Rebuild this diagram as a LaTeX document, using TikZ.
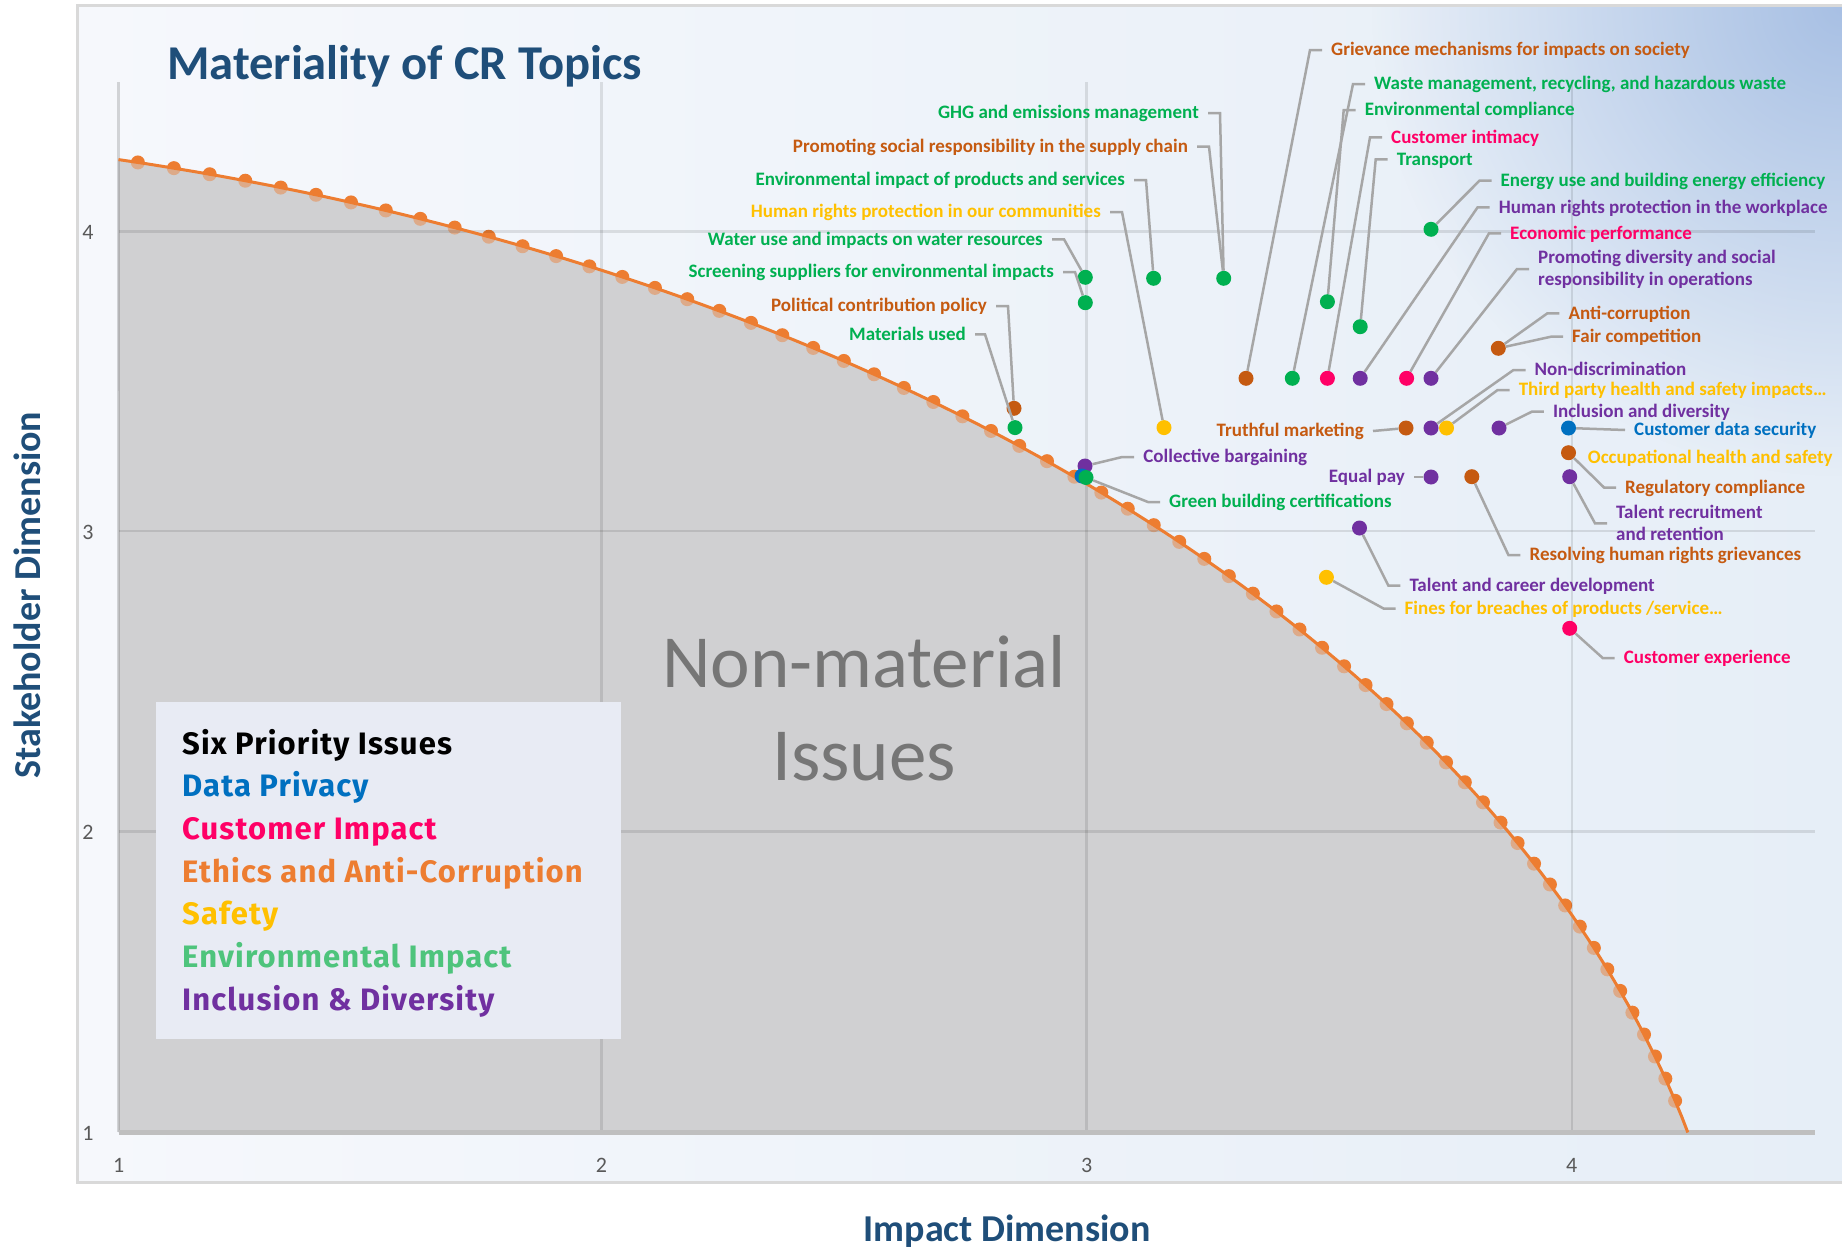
\documentclass[tikz,border=0pt]{standalone}
\usepackage{fontspec}
\setmainfont{Carlito}
\newfontfamily\legfont[LetterSpace=3.6]{Fira Sans}
\usetikzlibrary{fadings}

\definecolor{ttlblue}{RGB}{31,78,121}
\definecolor{cbrown}{RGB}{197,90,17}
\definecolor{cgreen}{RGB}{0,176,80}
\definecolor{cyellow}{RGB}{255,192,0}
\definecolor{cpink}{RGB}{255,0,102}
\definecolor{cpurple}{RGB}{112,48,160}
\definecolor{cblue}{RGB}{0,112,192}
\definecolor{corange}{RGB}{237,125,49}
\definecolor{legreen}{RGB}{78,196,124}
\definecolor{leadgray}{RGB}{166,166,166}
\definecolor{areagray}{RGB}{208,208,210}
\definecolor{bgleft}{RGB}{246,248,252}
\definecolor{bgright}{RGB}{230,238,247}
\definecolor{bgcorner}{RGB}{168,192,228}
\definecolor{legbg}{RGB}{232,235,244}
\definecolor{framegray}{RGB}{217,217,217}
\definecolor{tickgray}{RGB}{89,89,89}
\definecolor{nmgray}{RGB}{118,118,118}

\tikzfading[name=cornerfade, inner color=transparent!0, outer color=transparent!100]

\tikzset{
  lbl/.style={font=\fontsize{19}{22}\selectfont\bfseries, inner xsep=9pt, inner ysep=0pt},
  lblr/.style={lbl, anchor=east, text height=14.5pt, text depth=3pt},
  lbll/.style={lbl, anchor=west, text height=14.5pt, text depth=3pt},
  lbltwo/.style={lbl, anchor=west, align=left},
  issue/.style={circle, fill=#1, inner sep=0pt, minimum size=15pt},
  lead/.style={leadgray, line width=2.5pt},
  ticklbl/.style={font=\fontsize{22}{26}\selectfont, text=tickgray},
  legitem/.style={font=\legfont\fontsize{31}{36}\selectfont\bfseries, anchor=base west, inner sep=0pt},
  axtitle/.style={font=\fontsize{38}{42}\selectfont\bfseries, text=ttlblue},
}

\begin{document}
\begin{tikzpicture}[x=1pt, y=-1pt]
    \useasboundingbox (0,0) rectangle (1842,1250);

    % Fundo do grafico
    \begin{scope}
      \clip (77.5,5.5) rectangle (1842,1182.5);
      \shade[left color=bgleft, right color=bgright] (77.5,5.5) rectangle (1842,1182.5);
      \fill[bgcorner, path fading=cornerfade] (1842,5.5) circle (470pt);
    \end{scope}
    \draw[framegray, line width=3pt] (77.5,5.5) rectangle (1850,1182.5);

    % Area nao material e pontos da curva
    \fill[areagray] (118.6,1132.4) -- plot[domain=76.73:13.27, samples=90]
      ({118.6+(4.356*cos(\x)-1)*484.4},{1132.4-(4.356*sin(\x)-1)*300.3}) -- cycle;
    \foreach \k in {0,...,61}
      \fill[corange] ({118.6+(4.356*cos(14.7+1.008*\k)-1)*484.4},{1132.4-(4.356*sin(14.7+1.008*\k)-1)*300.3}) circle (7pt);
    \fill[areagray, opacity=0.55] (118.6,1132.4) -- plot[domain=76.73:13.27, samples=90]
      ({118.6+(4.356*cos(\x)-1)*484.4},{1132.4-(4.356*sin(\x)-1)*300.3}) -- cycle;

    % Grade e eixos
    \foreach \gx in {601.4,1086.6,1571.8}
      \draw[black, opacity=0.1, line width=2.5pt] (\gx,82) -- (\gx,1132.4);
    \foreach \gy in {231.4,531,831.7}
      \draw[black, opacity=0.1, line width=2.5pt] (118.6,\gy) -- (1815,\gy);
    \draw[black, opacity=0.15, line width=2.5pt] (118.6,82) -- (118.6,1132.4);
    \draw[black!25, line width=5pt] (118.6,1132.4) -- (1815,1132.4);
    \draw[corange, line width=3pt] plot[domain=76.73:13.27, samples=90]
      ({118.6+(4.356*cos(\x)-1)*484.4},{1132.4-(4.356*sin(\x)-1)*300.3});

    % Rotulos dos eixos
    \node[ticklbl] (tx1) at (118.6,1165) {1};
    \node[ticklbl] (tx2) at (601.4,1165) {2};
    \node[ticklbl] (tx3) at (1086.6,1165) {3};
    \node[ticklbl] (tx4) at (1571.8,1165) {4};
    \node[ticklbl] (ty1) at (88,1133) {1};
    \node[ticklbl] (ty2) at (88,832) {2};
    \node[ticklbl] (ty3) at (88,532) {3};
    \node[ticklbl] (ty4) at (88,232) {4};
    \node[axtitle, rotate=90] (ytitle) at (27,595) {Stakeholder Dimension};
    \node[axtitle] (xtitle) at (1007,1231) {Impact Dimension};
    \node[anchor=base west, inner sep=0pt, font=\fontsize{48.6}{56}\selectfont\bfseries, text=ttlblue] (title) at (166.8,79.3) {Materiality of CR Topics};
    \node[align=center, font=\fontsize{75}{93}\selectfont, text=nmgray] (nonmat) at (864,708) {Non-material\\Issues};

    % Legenda
    \node[fill=legbg, anchor=north west, minimum width=465pt, minimum height=337pt, inner sep=0pt] (legbox) at (156,701.5) {};
    \node[legitem, text=black] (lgsix) at (182,754) {Six Priority Issues};
    \node[legitem, text=cblue] (lgdata) at (182,796.7) {Data Privacy};
    \node[legitem, text=cpink] (lgcust) at (182,839.4) {Customer Impact};
    \node[legitem, text=corange] (lgeth) at (182,882.1) {Ethics and Anti-Corruption};
    \node[legitem, text=cyellow] (lgsaf) at (182,924.8) {Safety};
    \node[legitem, text=legreen] (lgenv) at (182,967.5) {Environmental Impact};
    \node[legitem, text=cpurple] (lgincl) at (182,1010.2) {Inclusion \& Diversity};

    % Topicos (pontos)
    \node[issue=cgreen] (dMat) at (1015,427.6) {};
    \node[issue=cbrown] (dPol) at (1014,408.3) {};
    \node[issue=cgreen] (dScr) at (1085.3,302.7) {};
    \node[issue=cgreen] (dWat) at (1085.3,277.3) {};
    \node[issue=cgreen] (dEnvP) at (1153.6,278.3) {};
    \node[issue=cgreen] (dGHG) at (1223.7,278.3) {};
    \node[issue=cyellow] (dHRC) at (1164,427.6) {};
    \node[issue=cbrown] (dGri) at (1246,378.3) {};
    \node[issue=cgreen] (dWas) at (1292.3,378.3) {};
    \node[issue=cgreen] (dEnvC) at (1327.4,301.7) {};
    \node[issue=cpink] (dCI) at (1327.4,378.3) {};
    \node[issue=cgreen] (dTra) at (1360.2,326.7) {};
    \node[issue=cgreen] (dEne) at (1431,229.3) {};
    \node[issue=cpurple] (dHRW) at (1360.2,378.3) {};
    \node[issue=cpink] (dEco) at (1406.6,378.3) {};
    \node[issue=cpurple] (dDiv) at (1431,378.3) {};
    \node[issue=cbrown] (dAnti) at (1498.3,348.3) {};
    \node[issue=cbrown] (dTru) at (1406,428) {};
    \node[issue=cpurple] (dNon) at (1431,428) {};
    \node[issue=cyellow] (dThi) at (1446.5,428) {};
    \node[issue=cpurple] (dInc) at (1499,428) {};
    \node[issue=cblue] (dCDS) at (1568.5,428) {};
    \node[issue=cbrown] (dReg) at (1568.5,452.7) {};
    \node[issue=cpurple] (dTal) at (1569.7,476.7) {};
    \node[issue=cpurple] (dEq) at (1431,477) {};
    \node[issue=cbrown] (dRes) at (1471.8,476.7) {};
    \node[issue=cpurple] (dCol) at (1085,466) {};
    \node[issue=cblue] (dGreB) at (1082,476) {};
    \node[issue=cgreen] (dGre) at (1086,477.5) {};
    \node[issue=cpurple] (dTCD) at (1359.5,528) {};
    \node[issue=cyellow] (dFin) at (1326.4,577.3) {};
    \node[issue=cpink] (dCE) at (1569.7,628.3) {};

    % Rotulos a esquerda
    \node[lblr, text=cgreen] (lGHG) at (1208,113) {GHG and emissions management};
    \node[lblr, text=cbrown] (lSup) at (1197,146.7) {Promoting social responsibility in the supply chain};
    \node[lblr, text=cgreen] (lEnvP) at (1134,180) {Environmental impact of products and services};
    \node[lblr, text=cyellow] (lHRC) at (1110,212) {Human rights protection in our communities};
    \node[lblr, text=cgreen] (lWat) at (1052,239.3) {Water use and impacts on water resources};
    \node[lblr, text=cgreen] (lScr) at (1063,272) {Screening suppliers for environmental impacts};
    \node[lblr, text=cbrown] (lPol) at (996,306) {Political contribution policy};
    \node[lblr, text=cgreen] (lMat) at (975,334.3) {Materials used};
    \node[lblr, text=cbrown] (lTru) at (1373,431) {Truthful marketing};
    \node[lblr, text=cpurple] (lEq) at (1414,477) {Equal pay};

    % Rotulos a direita
    \node[lbll, text=cbrown] (lGri) at (1322,50) {Grievance mechanisms for impacts on society};
    \node[lbll, text=cgreen] (lWas) at (1365,84) {Waste management, recycling, and hazardous waste};
    \node[lbll, text=cgreen] (lEnvC) at (1355.7,110) {Environmental compliance};
    \node[lbll, text=cpink] (lCI) at (1382,137.3) {Customer intimacy};
    \node[lbll, text=cgreen] (lTra) at (1387.7,159.3) {Transport};
    \node[lbll, text=cgreen] (lEne) at (1491.5,180.7) {Energy use and building energy efficiency};
    \node[lbll, text=cpurple] (lHRW) at (1489.6,207.3) {Human rights protection in the workplace};
    \node[lbll, text=cpink] (lEco) at (1501,233.3) {Economic performance};
    \node[lbltwo, text=cpurple] (lDiv) at (1529,269) {Promoting diversity and social\\responsibility in operations};
    \node[lbll, text=cbrown] (lAnti) at (1559.4,313.3) {Anti-corruption};
    \node[lbll, text=cbrown] (lFair) at (1563,336.7) {Fair competition};
    \node[lbll, text=cpurple] (lNon) at (1525.5,370) {Non-discrimination};
    \node[lbll, text=cyellow] (lThi) at (1509.6,390) {Third party health and safety impacts…};
    \node[lbll, text=cpurple] (lInc) at (1543.8,411.7) {Inclusion and diversity};
    \node[lbll, text=cblue] (lCDS) at (1625,430) {Customer data security};
    \node[lbll, text=cyellow] (lOcc) at (1578.7,457.3) {Occupational health and safety};
    \node[lbll, text=cbrown] (lReg) at (1616,487.5) {Regulatory compliance};
    \node[lbltwo, text=cpurple] (lTal) at (1607,523.3) {Talent recruitment\\and retention};
    \node[lbll, text=cbrown] (lRes) at (1520.4,555) {Resolving human rights grievances};
    \node[lbll, text=cpurple] (lTCD) at (1400.3,585.5) {Talent and career development};
    \node[lbll, text=cyellow] (lFin) at (1395.5,608.5) {Fines for breaches of products /service…};
    \node[lbll, text=cpink] (lCE) at (1614.7,658) {Customer experience};
    \node[lbll, text=cpurple] (lCol) at (1134.2,457) {Collective bargaining};
    \node[lbll, text=cgreen] (lGre) at (1160,502) {Green building certifications};

    % Linhas de chamada
    \path[lead, draw] (lGHG.east) -- ++(12,0) -- (dGHG);
    \path[lead, draw] (lSup.east) -- ++(12,0) -- (dGHG);
    \path[lead, draw] (lEnvP.east) -- ++(12,0) -- (dEnvP);
    \path[lead, draw] (lHRC.east) -- ++(12,0) -- (dHRC);
    \path[lead, draw] (lWat.east) -- ++(12,0) -- (dWat);
    \path[lead, draw] (lScr.east) -- ++(12,0) -- (dScr);
    \path[lead, draw] (lPol.east) -- ++(12,0) -- (dPol);
    \path[lead, draw] (lMat.east) -- ++(10,0) -- (dMat);
    \path[lead, draw] (lTru.east) -- (dTru);
    \path[lead, draw] (lEq.east) -- (dEq);
    \path[lead, draw] (lGri.west) -- ++(-12,0) -- (dGri);
    \path[lead, draw] (lWas.west) -- ++(-12,0) -- (dWas);
    \path[lead, draw] (lEnvC.west) -- ++(-12,0) -- (dEnvC);
    \path[lead, draw] (lCI.west) -- ++(-12,0) -- (dCI);
    \path[lead, draw] (lTra.west) -- ++(-12,0) -- (dTra);
    \path[lead, draw] (lEne.west) -- ++(-12,0) -- (dEne);
    \path[lead, draw] (lHRW.west) -- ++(-12,0) -- (dHRW);
    \path[lead, draw] (lEco.west) -- ++(-12,0) -- (dEco);
    \path[lead, draw] (lDiv.west) -- ++(-12,0) -- (dDiv);
    \path[lead, draw] (lAnti.west) -- ++(-12,0) -- (dAnti);
    \path[lead, draw] (lFair.west) -- ++(-12,0) -- (dAnti);
    \path[lead, draw] (lNon.west) -- ++(-12,0) -- (dNon);
    \path[lead, draw] (lThi.west) -- ++(-12,0) -- (dThi);
    \path[lead, draw] (lInc.west) -- ++(-12,0) -- (dInc);
    \path[lead, draw] (lCDS.west) -- (dCDS);
    \path[lead, draw] (lReg.west) -- ++(-12,0) -- (dReg);
    \path[lead, draw] (lTal.west) -- ++(-12,0) -- (dTal);
    \path[lead, draw] (lRes.west) -- ++(-12,0) -- (dRes);
    \path[lead, draw] (lTCD.west) -- ++(-12,0) -- (dTCD);
    \path[lead, draw] (lFin.west) -- ++(-12,0) -- (dFin);
    \path[lead, draw] (lCE.west) -- ++(-12,0) -- (dCE);
    \path[lead, draw] (lCol.west) -- ++(-12,0) -- (dCol);
    \path[lead, draw] (lGre.west) -- ++(-12,0) -- (dGre);

\end{tikzpicture}
\end{document}
